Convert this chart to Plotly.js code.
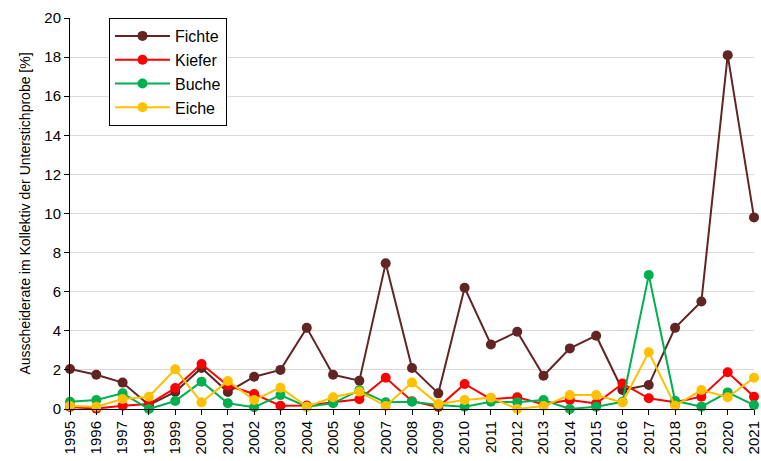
<!DOCTYPE html>
<html><head><meta charset="utf-8">
<script src="https://cdn.plot.ly/plotly-3.0.1.min.js"></script>
<style>body{margin:0;background:#fff}#chart{width:761px;height:461px}</style>
</head><body><div id="chart"></div>
<script>
const years = [1995,1996,1997,1998,1999,2000,2001,2002,2003,2004,2005,2006,2007,2008,2009,2010,2011,2012,2013,2014,2015,2016,2017,2018,2019,2020,2021];
const fichte = [2.05,1.75,1.35,0.2,0.87,2.1,0.87,1.65,2.0,4.15,1.75,1.45,7.45,2.1,0.8,6.2,3.3,3.95,1.7,3.1,3.75,0.97,1.23,4.15,5.5,18.1,9.8];
const kiefer = [0.1,0.02,0.17,0.25,1.07,2.3,1.2,0.77,0.17,0.18,0.35,0.5,1.6,0.4,0.1,1.28,0.5,0.6,0.25,0.46,0.28,1.3,0.55,0.35,0.63,1.88,0.63];
const buche = [0.37,0.46,0.8,0.0,0.41,1.4,0.29,0.09,0.71,0.12,0.29,0.97,0.34,0.37,0.2,0.12,0.37,0.35,0.46,0.0,0.12,0.37,6.85,0.42,0.12,0.85,0.2];
const eiche = [0.15,0.12,0.51,0.63,2.03,0.34,1.43,0.46,1.09,0.12,0.6,0.89,0.15,1.35,0.25,0.46,0.58,0.0,0.15,0.71,0.71,0.33,2.9,0.17,0.97,0.6,1.6];
const names = ['Fichte','Kiefer','Buche','Eiche'];
const colors = ['#632523','#FF0000','#00B050','#FFC000'];
const series = [fichte,kiefer,buche,eiche];
const traces = series.map((s,i)=>({
  x: years, y: s, name: names[i], type:'scatter', mode:'lines+markers',
  line:{color:colors[i], width:2}, marker:{color:colors[i], size:10},
  cliponaxis:false
}));
const font = 'Liberation Sans, Arial, sans-serif';
Plotly.newPlot('chart', traces, {
  width:761, height:461,
  margin:{l:70,r:7,t:18,b:52},
  paper_bgcolor:'#fff', plot_bgcolor:'#fff',
  font:{family:font, color:'#000'},
  showlegend:true,
  legend:{x:0.057,y:1,xanchor:'left',yanchor:'top',bordercolor:'#000',borderwidth:1,bgcolor:'#fff',font:{size:16,family:font},tracegroupgap:0,itemwidth:55},
  xaxis:{range:[1995,2021],tickvals:years,ticktext:years.map(String),tickangle:-90,ticklabeloverflow:'allow',
    showline:true,linecolor:'#000',linewidth:1,ticks:'outside',ticklen:5,tickcolor:'#000',
    showgrid:false,zeroline:false,tickfont:{size:15,family:font}},
  yaxis:{range:[0,20],dtick:2,showline:true,linecolor:'#000',linewidth:1,ticks:'outside',ticklen:5,tickcolor:'#000',
    gridcolor:'#d9d9d9',zeroline:false,tickfont:{size:15,family:font},
    title:{text:'Ausscheiderate im Kollektiv der Unterstichprobe [%]',font:{size:14,family:font},standoff:10}}
}, {displayModeBar:false, staticPlot:true});
</script></body></html>
